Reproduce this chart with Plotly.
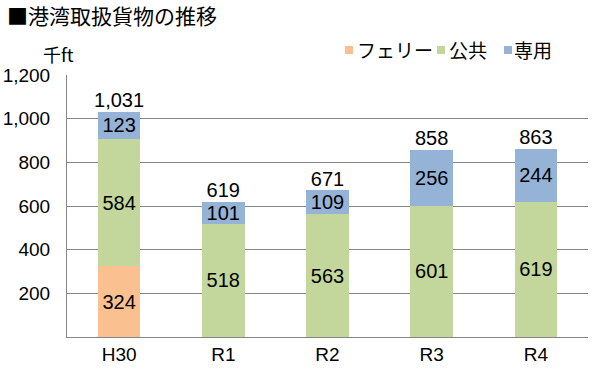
import plotly.graph_objects as go

categories = ["H30", "R1", "R2", "R3", "R4"]
ferry = [324, None, None, None, None]
public = [584, 518, 563, 601, 619]
private = [123, 101, 109, 256, 244]
totals = [1031, 619, 671, 858, 863]
ytick_vals = [200, 400, 600, 800, 1000, 1200]
ytick_text = ["200", "400", "600", "800", "1,000", "1,200"]
series_names = ["フェリー", "公共", "専用"]
series_colors = ["#FAC090", "#C3D69B", "#95B3D7"]

font_num = "Liberation Sans, Arial, sans-serif"
font_jp = "Noto Sans CJK JP, sans-serif"

def lbl(v):
    return [("" if x is None else f"{x:,}") for x in v]

fig = go.Figure()
for name, vals, col in zip(series_names, [ferry, public, private], series_colors):
    fig.add_trace(go.Bar(
        x=categories, y=vals, name=name,
        marker=dict(color=col, line=dict(width=0)),
        text=lbl(vals), textposition="inside", insidetextanchor="middle",
        textfont=dict(family=font_num, size=20, color="black"),
        textangle=0, constraintext="none",
    ))

fig.add_trace(go.Scatter(
    x=categories, y=totals, mode="text",
    text=[f"{t:,}" for t in totals], textposition="top center",
    textfont=dict(family=font_num, size=20, color="black"),
    showlegend=False, hoverinfo="skip",
))

def ann(text, xs, ys, size, color="black", family=font_jp):
    return dict(text=text, x=0, y=1, xref="paper", yref="paper",
                xanchor="left", yanchor="top", align="left", showarrow=False,
                borderpad=0, font=dict(family=family, size=size, color=color),
                xshift=xs, yshift=ys)

annotations = [
    ann("■港湾取扱貨物の推移", -61, 76, 21),
    ann("千ft", -25, 35, 18),
]
shapes = []
# legend (squares + labels)
sq_x = [278, 370, 437]
tx_x = [289, 381, 446]
for n, c, sx, tx in zip(series_names, series_colors, sq_x, tx_x):
    shapes.append(dict(type="rect", xref="paper", yref="paper",
                       xsizemode="pixel", ysizemode="pixel", xanchor=0, yanchor=1,
                       x0=sx, x1=sx + 8, y0=21, y1=29,
                       fillcolor=c, line=dict(width=0), layer="above"))
    annotations.append(ann(n, tx, 40, 19))

fig.update_layout(
    width=601, height=382,
    barmode="stack", bargap=0.59,
    paper_bgcolor="white", plot_bgcolor="white",
    margin=dict(l=67, r=13, t=75, b=45, autoexpand=False),
    showlegend=False,
    xaxis=dict(showgrid=False, showline=True, linecolor="#868686", linewidth=1,
               ticks="", automargin=False,
               tickfont=dict(family=font_num, size=19, color="black")),
    yaxis=dict(range=[0, 1200], tickvals=ytick_vals, ticktext=ytick_text,
               showgrid=True, gridcolor="#868686", gridwidth=1,
               showline=True, linecolor="#868686", linewidth=1,
               ticks="", ticklabelstandoff=12, automargin=False,
               tickfont=dict(family=font_num, size=19, color="black")),
    annotations=annotations,
    shapes=shapes,
)

fig.write_html("out.html", config={"displayModeBar": False},
               post_script="document.body.style.margin='0';")
